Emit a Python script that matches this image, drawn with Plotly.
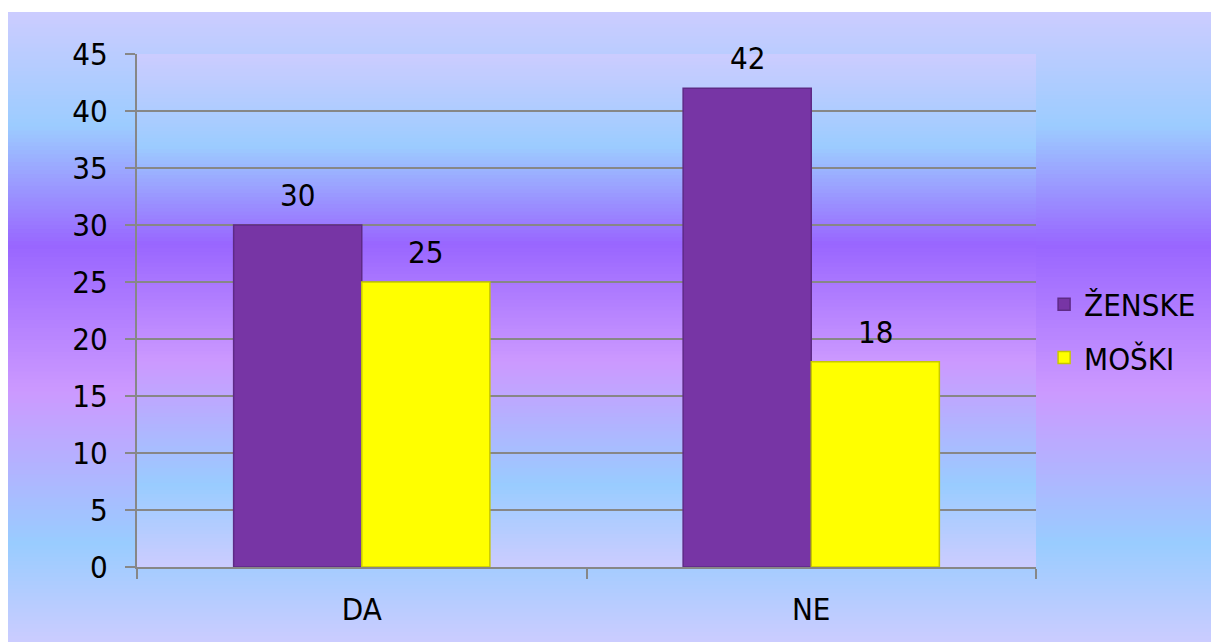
import plotly.graph_objects as go

# ---------------- data ----------------
categories = ["DA", "NE"]
zenske = [30, 42]
moski = [25, 18]
series_names = ["ŽENSKE", "MOŠKI"]
y_ticks = [0, 5, 10, 15, 20, 25, 30, 35, 40, 45]

# ---------------- style ----------------
W, H = 1211, 642
ML, MR, MT, MB = 137, 175, 54, 75
PW, PH = W - ML - MR, H - MT - MB
FONT = "DejaVu Sans Condensed, DejaVu Sans, sans-serif"
FS = 31
PURPLE = "#7735a5"
YELLOW = "#ffff00"
GRID = "#878787"

stops = [(0.0, (0xcc, 0xcc, 0xff)), (0.18, (0x9c, 0xcc, 0xff)),
         (0.37, (0x99, 0x66, 0xff)), (0.60, (0xcc, 0x99, 0xff)),
         (0.84, (0x99, 0xcc, 0xff)), (1.0, (0xcc, 0xcc, 0xff))]


def grad(t):
    for (a, ca), (b, cb) in zip(stops[:-1], stops[1:]):
        if a <= t <= b:
            f = (t - a) / (b - a)
            c = [round(ca[i] + (cb[i] - ca[i]) * f) for i in range(3)]
            return "rgb(%d,%d,%d)" % tuple(c)
    return "rgb(204,204,255)"


shapes = []
# outer chart-area gradient (paper coords from pixel frame: x 8..W, y 12..H)
ox0, ox1 = (8 - ML) / PW, (W + 2 - ML) / PW
oy_top, oy_bot = (H - MB - 12) / PH, (H - MB - (H + 2)) / PH
N = 160
for i in range(N):
    t0, t1 = i / N, (i + 1) / N
    shapes.append(dict(type="rect", xref="paper", yref="paper", layer="below",
                       x0=ox0, x1=ox1,
                       y0=oy_top - (oy_top - oy_bot) * t1 - 0.002,
                       y1=oy_top - (oy_top - oy_bot) * t0,
                       fillcolor=grad((t0 + t1) / 2), line=dict(width=0)))
# plot-area gradient
M = 140
for i in range(M):
    t0, t1 = i / M, (i + 1) / M
    shapes.append(dict(type="rect", xref="x domain", yref="y domain", layer="below",
                       x0=0, x1=1, y0=1 - t1 - 0.002, y1=1 - t0,
                       fillcolor=grad((t0 + t1) / 2), line=dict(width=0)))

fig = go.Figure()
fig.add_trace(go.Bar(x=categories, y=zenske, name=series_names[0],
                     marker=dict(color=PURPLE, line=dict(color="#5e2a86", width=1.5)),
                     legendgroup="a"))
fig.add_trace(go.Bar(x=categories, y=moski, name=series_names[1],
                     marker=dict(color=YELLOW, line=dict(color="#c8c800", width=1.5)),
                     legendgroup="b"))

annotations = []
for vals, shift in ((zenske, -64), (moski, 64)):
    for c, v in zip(categories, vals):
        annotations.append(dict(x=c, y=v, xref="x", yref="y", text=str(v),
                                showarrow=False, yanchor="bottom", xshift=shift,
                                yshift=10, font=dict(size=FS, color="black", family=FONT)))

fig.update_layout(
    width=W, height=H,
    margin=dict(l=ML, r=MR, t=MT, b=MB, pad=0, autoexpand=False),
    paper_bgcolor="white",
    plot_bgcolor="rgba(0,0,0,0)",
    barmode="group", bargap=0.43, bargroupgap=0,
    font=dict(family=FONT, size=FS, color="black"),
    shapes=shapes,
    annotations=annotations,
    showlegend=True,
    legend=dict(x=1.009, xanchor="left", y=0.46, yanchor="middle",
                bgcolor="rgba(0,0,0,0)", traceorder="grouped", tracegroupgap=10,
                font=dict(size=FS, family=FONT), itemwidth=30),
)
fig.update_yaxes(range=[0, 45], tickvals=y_ticks, showgrid=True, gridcolor=GRID,
                 gridwidth=2, showline=True, linecolor=GRID, linewidth=2,
                 ticks="outside", ticklen=10, tickcolor=GRID, tickwidth=2,
                 ticklabelstandoff=11, zeroline=False)
fig.update_xaxes(showline=True, linecolor=GRID, linewidth=2, ticks="outside",
                 tickson="boundaries", ticklen=10, tickcolor=GRID, tickwidth=2,
                 ticklabelstandoff=14, showgrid=False)

fig.write_html("out.html",
               config={"displayModeBar": False},
               post_script="document.body.style.margin='0';"
                           "document.body.style.overflow='hidden';")
